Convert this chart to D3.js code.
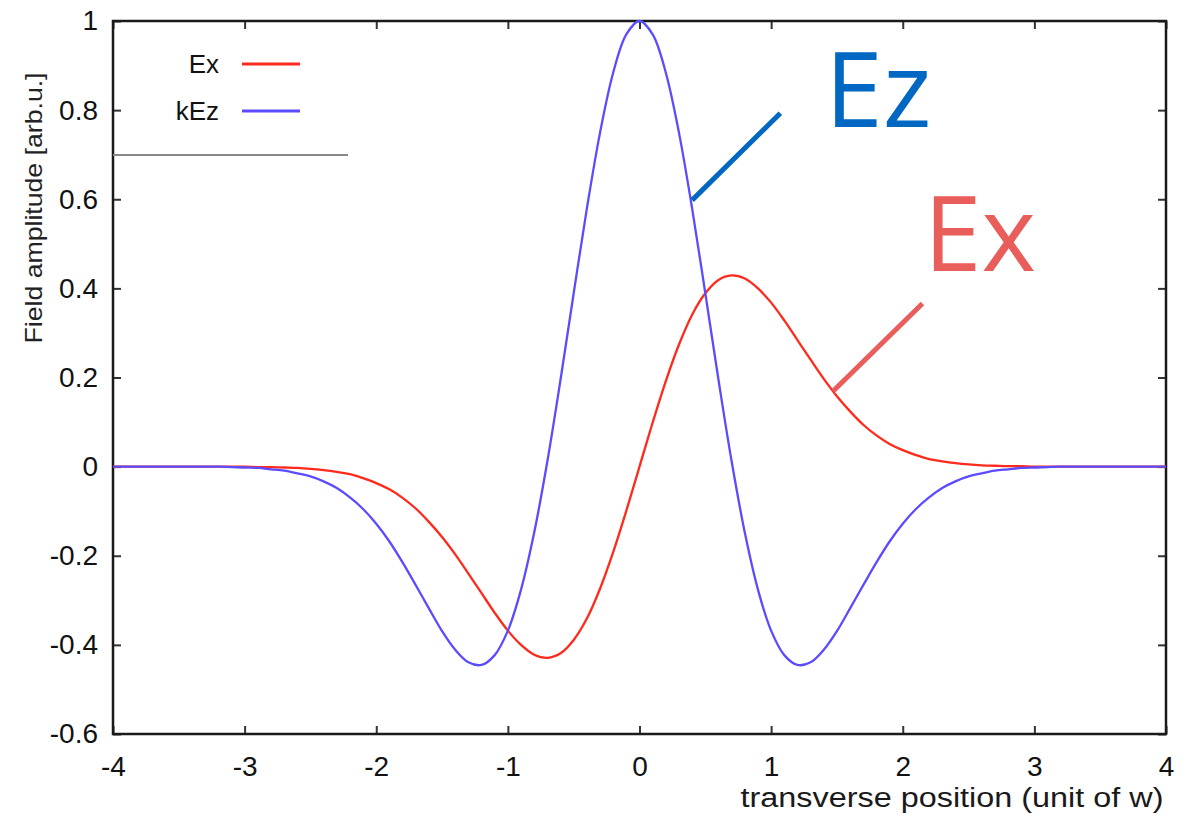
<!DOCTYPE html>
<html>
<head>
<meta charset="utf-8">
<script src="https://cdn.jsdelivr.net/npm/d3@7"></script>
<style>
  body { margin: 0; background: #fff; }
  text { font-family: "Liberation Sans", Arial, sans-serif; }
</style>
</head>
<body>
<svg id="chart"></svg>
<script>
// Chart size
const width = 1182;
const height = 816;

// Transverse positions (unit of w)
const positions = [-4, -3.5, -3.2, -3, -2.9, -2.8, -2.7, -2.6, -2.5, -2.4, -2.3, -2.2, -2.1,
  -2, -1.9, -1.8, -1.7, -1.6, -1.5, -1.4, -1.3, -1.2, -1.1, -1, -0.9, -0.8, -0.7, -0.6,
  -0.5, -0.4, -0.3, -0.2, -0.1, 0, 0.1, 0.2, 0.3, 0.4, 0.5, 0.6, 0.7, 0.8, 0.9, 1,
  1.1, 1.2, 1.3, 1.4, 1.5, 1.6, 1.7, 1.8, 1.9, 2, 2.1, 2.2, 2.3, 2.4, 2.5, 2.6, 2.7,
  2.8, 2.9, 3, 3.2, 3.5, 4];

// Ex field amplitude
const exValues = [0, 0, 0, 0, -0.001, -0.001, -0.002, -0.003, -0.005, -0.008, -0.012, -0.017, -0.026,
  -0.037, -0.051, -0.070, -0.094, -0.124, -0.158, -0.197, -0.240, -0.284, -0.328, -0.368, -0.400, -0.422, -0.429, -0.419,
  -0.389, -0.341, -0.274, -0.192, -0.099, 0, 0.099, 0.192, 0.274, 0.341, 0.389, 0.419, 0.429, 0.422, 0.400, 0.368,
  0.328, 0.284, 0.240, 0.197, 0.158, 0.124, 0.094, 0.070, 0.051, 0.037, 0.026, 0.017, 0.012, 0.008, 0.005, 0.003, 0.002,
  0.001, 0.001, 0, 0, 0, 0];

// kEz field amplitude
const kezValues = [0, 0, 0, -0.002, -0.003, -0.006, -0.009, -0.015, -0.022, -0.033, -0.048, -0.069, -0.095,
  -0.128, -0.168, -0.215, -0.266, -0.318, -0.369, -0.411, -0.439, -0.445, -0.423, -0.368, -0.276, -0.148, 0.012, 0.195,
  0.389, 0.579, 0.749, 0.884, 0.970, 1, 0.970, 0.884, 0.749, 0.579, 0.389, 0.195, 0.012, -0.148, -0.276, -0.368,
  -0.423, -0.445, -0.439, -0.411, -0.369, -0.318, -0.266, -0.215, -0.168, -0.128, -0.095, -0.069, -0.048, -0.033, -0.022, -0.015, -0.009,
  -0.006, -0.003, -0.002, 0, 0, 0];

// Tick values and labels (plain hyphen for minus, as in the original)
const xTicks = [-4, -3, -2, -1, 0, 1, 2, 3, 4];
const xTickLabels = ["-4", "-3", "-2", "-1", "0", "1", "2", "3", "4"];
const yTicks = [-0.6, -0.4, -0.2, 0, 0.2, 0.4, 0.6, 0.8, 1];
const yTickLabels = ["-0.6", "-0.4", "-0.2", "0", "0.2", "0.4", "0.6", "0.8", "1"];

// Series and annotations
const seriesNames = ["Ex", "kEz"];
const seriesColors = ["#ff2a1c", "#5b4cff"];
const callouts = [
  { label: "Ez", color: "#0067c2", from: [1.07, 0.793], to: [0.40, 0.598], text: [1.41, 0.762] },
  { label: "Ex", color: "#e95e5b", from: [2.15, 0.366], to: [1.47, 0.169], text: [2.16, 0.438] }
];

const margin = { top: 21, right: 16, bottom: 82, left: 113 };

const svg = d3.select("#chart")
  .attr("width", width)
  .attr("height", height)
  .attr("viewBox", `0 0 ${width} ${height}`);

const x = d3.scaleLinear().domain([-4, 4]).range([margin.left, width - margin.right]);
const y = d3.scaleLinear().domain([-0.6, 1]).range([height - margin.bottom, margin.top]);

// Inside ticks on all four sides (gnuplot mirror style)
const tickLen = 8;
const axes = svg.append("g").attr("class", "axes");

axes.append("g")
  .attr("transform", `translate(0,${y(-0.6)})`)
  .call(d3.axisBottom(x).tickValues(xTicks).tickSize(-tickLen).tickPadding(22)
    .tickFormat((d, i) => xTickLabels[i]))
  .call(g => g.select(".domain").remove());
axes.append("g")
  .attr("transform", `translate(0,${y(1)})`)
  .call(d3.axisTop(x).tickValues(xTicks).tickSize(-tickLen).tickFormat(""))
  .call(g => g.select(".domain").remove());
axes.append("g")
  .attr("transform", `translate(${x(-4)},0)`)
  .call(d3.axisLeft(y).tickValues(yTicks).tickSize(-tickLen).tickPadding(15)
    .tickFormat((d, i) => yTickLabels[i]))
  .call(g => g.select(".domain").remove());
axes.append("g")
  .attr("transform", `translate(${x(4)},0)`)
  .call(d3.axisRight(y).tickValues(yTicks).tickSize(-tickLen).tickFormat(""))
  .call(g => g.select(".domain").remove());

axes.selectAll(".tick line").attr("stroke", "#333").attr("stroke-width", 2);
axes.selectAll(".tick text")
  .attr("font-size", 28)
  .attr("fill", "#111")
  .style("font-family", "'Liberation Sans', Arial, sans-serif");

// Frame
svg.append("rect")
  .attr("x", x(-4))
  .attr("y", y(1))
  .attr("width", x(4) - x(-4))
  .attr("height", y(-0.6) - y(1))
  .attr("fill", "none")
  .attr("stroke", "#1a1a1a")
  .attr("stroke-width", 2.5);

// Curves
const seriesValues = [exValues, kezValues];
const line = d3.line()
  .x((d, i) => x(positions[i]))
  .y(d => y(d))
  .curve(d3.curveCatmullRom);

svg.selectAll(".curve")
  .data(seriesValues)
  .enter().append("path")
  .attr("class", "curve")
  .attr("d", line)
  .attr("fill", "none")
  .attr("stroke", (d, i) => seriesColors[i])
  .attr("stroke-width", 2.3);

// Legend
const legend = svg.append("g").attr("class", "legend");
seriesNames.forEach((name, i) => {
  const ly = 64 + i * 47;
  legend.append("text")
    .attr("x", 219)
    .attr("y", ly + 9)
    .attr("text-anchor", "end")
    .attr("font-size", 26)
    .attr("fill", "#111")
    .text(name);
  legend.append("line")
    .attr("x1", 242).attr("x2", 300)
    .attr("y1", ly).attr("y2", ly)
    .attr("stroke", seriesColors[i])
    .attr("stroke-width", 3);
});
legend.append("line")
  .attr("x1", x(-4)).attr("x2", 348)
  .attr("y1", 155).attr("y2", 155)
  .attr("stroke", "#888")
  .attr("stroke-width", 2);

// Axis labels
svg.append("text")
  .attr("x", 952)
  .attr("y", 807)
  .attr("text-anchor", "middle")
  .attr("font-size", 27)
  .attr("fill", "#1a1a1a")
  .attr("textLength", 423)
  .attr("lengthAdjust", "spacingAndGlyphs")
  .text("transverse position (unit of w)");

svg.append("text")
  .attr("transform", `translate(42,208) rotate(-90)`)
  .attr("text-anchor", "middle")
  .attr("font-size", 24)
  .attr("fill", "#222")
  .attr("textLength", 271)
  .attr("lengthAdjust", "spacingAndGlyphs")
  .text("Field amplitude [arb.u.]");

// Callouts
const notes = svg.append("g").attr("class", "callouts");
callouts.forEach(c => {
  notes.append("line")
    .attr("x1", x(c.from[0])).attr("y1", y(c.from[1]))
    .attr("x2", x(c.to[0])).attr("y2", y(c.to[1]))
    .attr("stroke", c.color)
    .attr("stroke-width", 5);
  notes.append("text")
    .attr("x", x(c.text[0]))
    .attr("y", y(c.text[1]))
    .attr("font-size", 104)
    .attr("fill", c.color)
    .style("font-family", "'Open Sans', 'Noto Sans', sans-serif")
    .text(c.label);
});
</script>
</body>
</html>
